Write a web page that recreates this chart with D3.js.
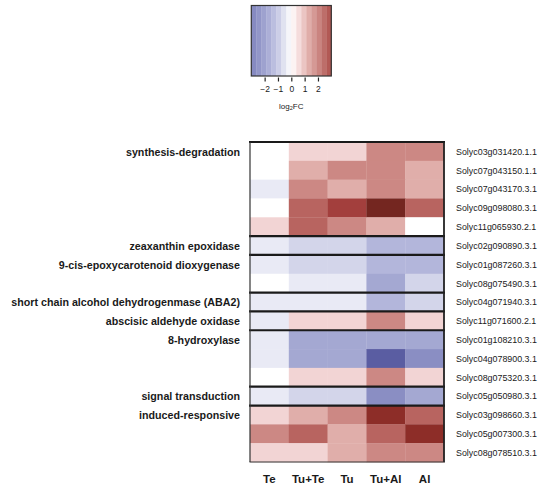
<!DOCTYPE html>
<html>
<head>
<meta charset="utf-8">
<script src="https://cdn.jsdelivr.net/npm/d3@7"></script>
<style>
  html, body { margin: 0; padding: 0; background: #ffffff; }
  svg { display: block; }
  text { font-family: "Liberation Sans", Arial, sans-serif; fill: #1a1a1a; }
</style>
</head>
<body>
<svg id="chart" width="538" height="488"></svg>
<script>
// Treatments (columns)
const conditions = ["Te", "Tu+Te", "Tu", "Tu+Al", "Al"];

// Gene IDs (rows, top to bottom)
const genes = [
  "Solyc03g031420.1.1", "Solyc07g043150.1.1", "Solyc07g043170.3.1", "Solyc09g098080.3.1",
  "Solyc11g065930.2.1", "Solyc02g090890.3.1", "Solyc01g087260.3.1", "Solyc08g075490.3.1",
  "Solyc04g071940.3.1", "Solyc11g071600.2.1", "Solyc01g108210.3.1", "Solyc04g078900.3.1",
  "Solyc08g075320.3.1", "Solyc05g050980.3.1", "Solyc03g098660.3.1", "Solyc05g007300.3.1",
  "Solyc08g078510.3.1"
];

// Functional groups: label and number of genes in each
const groupNames = [
  "synthesis-degradation", "zeaxanthin epoxidase", "9-cis-epoxycarotenoid dioxygenase",
  "short chain alcohol dehydrogenmase (ABA2)", "abscisic aldehyde oxidase", "8-hydroxylase",
  "signal transduction", "induced-responsive"
];
const groupSizes = [5, 1, 2, 1, 1, 3, 1, 3];

// log2FC per gene, in column order Te, Tu+Te, Tu, Tu+Al, Al
const log2fc = [
  [0.0, 0.7, 0.7, 2.0, 2.0],
  [0.0, 1.3, 2.0, 2.0, 1.3],
  [-0.4, 2.0, 1.3, 2.0, 1.3],
  [0.0, 2.6, 3.3, 4.5, 2.6],
  [0.7, 2.6, 2.0, 1.3, 0.0],
  [-0.4, -0.8, -0.8, -1.5, -1.5],
  [-0.4, -0.8, -0.8, -1.5, -1.5],
  [0.0, -0.4, -0.4, -1.9, -0.8],
  [-0.4, -0.4, -0.4, -1.5, -0.8],
  [-0.4, 0.7, 0.7, 2.0, 0.7],
  [-0.4, -1.9, -1.9, -1.9, -1.9],
  [-0.4, -1.9, -1.9, -4.0, -2.7],
  [0.0, 0.7, 0.7, 2.0, 0.7],
  [-0.4, -0.8, -0.8, -2.7, -1.9],
  [0.7, 1.3, 2.0, 3.9, 2.6],
  [2.0, 2.6, 1.3, 2.6, 3.9],
  [0.7, 0.7, 1.3, 2.0, 2.0]
];

// Legend ticks
const legendTicks = [-2, -1, 0, 1, 2];

// Diverging blue-white-red palette
const colorStops = [-4, -3, -2, -1.5, -1, -0.5, 0, 0.7, 1.3, 2, 2.6, 3.3, 3.9, 4.5];
const colorRange = ["#5a5da2", "#8084be", "#a0a4d0", "#b3b6db", "#c9cbe5", "#e3e5f2", "#ffffff",
                    "#f2d4d4", "#e0aeaa", "#cc8884", "#b86460", "#a33f3d", "#8d2d28", "#742620"];
const color = d3.scaleLinear().domain(colorStops).range(colorRange).clamp(true);

const svg = d3.select("#chart");

// ---- Heatmap ----
const x = d3.scaleBand().domain(conditions).range([250, 444]);
const y = d3.scaleBand().domain(genes).range([142, 462]);

const cells = [];
genes.forEach((g, i) => conditions.forEach((c, j) => cells.push({ g, c, v: log2fc[i][j] })));

svg.append("g").selectAll("rect").data(cells).join("rect")
  .attr("x", d => x(d.c))
  .attr("y", d => y(d.g))
  .attr("width", x.bandwidth() + 0.3)
  .attr("height", y.bandwidth() + 0.3)
  .attr("fill", d => color(d.v));

// Group boundaries
let start = 0;
const groups = groupNames.map((name, k) => {
  const gr = { name, first: genes[start], last: genes[start + groupSizes[k] - 1] };
  start += groupSizes[k];
  return gr;
});

const frame = svg.append("g");
// thick separators at top of each group
groups.forEach(gr => {
  frame.append("line")
    .attr("x1", 249).attr("x2", 445)
    .attr("y1", y(gr.first)).attr("y2", y(gr.first))
    .attr("stroke", "#1a1a1a").attr("stroke-width", 2.2);
});
// left, right and bottom borders
frame.append("line").attr("x1", 250).attr("x2", 250).attr("y1", 142).attr("y2", 462)
  .attr("stroke", "#333").attr("stroke-width", 1.2);
frame.append("line").attr("x1", 444).attr("x2", 444).attr("y1", 142).attr("y2", 462)
  .attr("stroke", "#222").attr("stroke-width", 1.8);
frame.append("line").attr("x1", 249.5).attr("x2", 445).attr("y1", 462).attr("y2", 462)
  .attr("stroke", "#333").attr("stroke-width", 1.2);

// Group labels
svg.append("g").selectAll("text").data(groups).join("text")
  .attr("x", 240)
  .attr("y", d => y(d.first) + y.bandwidth() / 2 + 1.5)
  .attr("text-anchor", "end")
  .attr("dominant-baseline", "middle")
  .attr("font-size", 10.7)
  .attr("font-weight", "bold")
  .text(d => d.name);

// Gene labels
svg.append("g").selectAll("text").data(genes).join("text")
  .attr("x", 456)
  .attr("y", d => y(d) + y.bandwidth() / 2 + 1)
  .attr("dominant-baseline", "middle")
  .attr("font-size", 8.9)
  .attr("fill", "#222")
  .text(d => d);

// Column labels
svg.append("g").selectAll("text").data(conditions).join("text")
  .attr("x", d => x(d) + x.bandwidth() / 2)
  .attr("y", 480)
  .attr("text-anchor", "middle")
  .attr("dominant-baseline", "middle")
  .attr("font-size", 11.5)
  .attr("font-weight", "bold")
  .text(d => d);

// ---- Colour key ----
const lx = d3.scaleLinear().domain([-3, 3]).range([251.3, 331.3]);
const nBands = 16;
const step = 6 / nBands;
const bands = d3.range(nBands).map(i => -3 + i * step);
const key = svg.append("g");
key.selectAll("rect").data(bands).join("rect")
  .attr("x", d => lx(d))
  .attr("y", 5.5)
  .attr("width", lx(d3.min(bands) + step) - lx(d3.min(bands)) + 0.3)
  .attr("height", 70.5)
  .attr("fill", d => color(d + step / 2));
key.append("rect")
  .attr("x", lx(-3)).attr("y", 5.5)
  .attr("width", lx(3) - lx(-3)).attr("height", 70.5)
  .attr("fill", "none").attr("stroke", "#333").attr("stroke-width", 1.2);

const keyAxis = d3.axisBottom(lx).tickValues(legendTicks).tickSize(4).tickSizeOuter(0)
  .tickFormat(d => d < 0 ? "\u2212" + Math.abs(d) : d);
const ka = key.append("g").attr("transform", "translate(0,77.5)").call(keyAxis);
ka.select(".domain").remove();
ka.selectAll(".tick line").attr("stroke", "#222").attr("stroke-width", 1.2);
ka.selectAll(".tick text").attr("font-size", 8.5).attr("fill", "#222")
  .attr("font-family", "Liberation Sans, Arial, sans-serif").attr("dy", "0.9em");

const keyTitle = key.append("text")
  .attr("x", lx(0))
  .attr("y", 107)
  .attr("text-anchor", "middle")
  .attr("dominant-baseline", "middle")
  .attr("font-size", 8)
  .attr("fill", "#222");
keyTitle.append("tspan").text("log");
keyTitle.append("tspan").attr("font-size", 5.5).attr("dy", 2).text("2");
keyTitle.append("tspan").attr("dy", -2).text("FC");
</script>
</body>
</html>
